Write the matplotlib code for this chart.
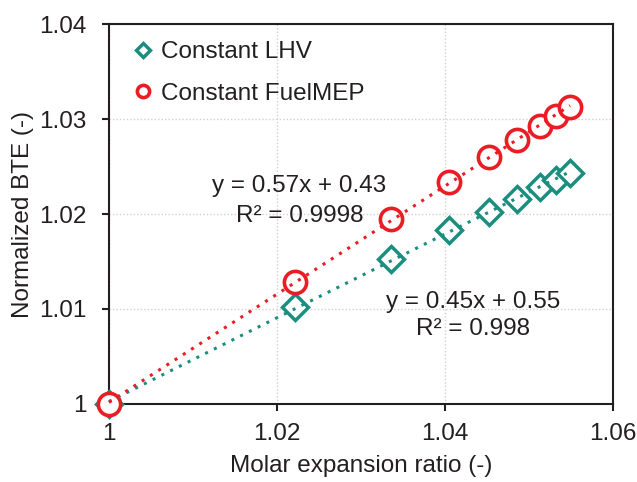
import numpy as np
import matplotlib
matplotlib.use("Agg")
import matplotlib.pyplot as plt

plt.rcParams['font.family'] = ['Liberation Sans', 'DejaVu Sans']

x_vals = [1.0, 1.0221, 1.0336, 1.0405, 1.0452, 1.0486, 1.0513, 1.0532, 1.0549]
lhv_vals = [1.0, 1.0102, 1.0153, 1.0183, 1.0202, 1.0216, 1.0228, 1.0236, 1.0243]
fmep_vals = [1.0, 1.0128, 1.0195, 1.0234, 1.0260, 1.0278, 1.0293, 1.0303, 1.0313]
x_ticks = [1, 1.02, 1.04, 1.06]
y_ticks = [1, 1.01, 1.02, 1.03, 1.04]
eq_fmep = ["y = 0.57x + 0.43", "R² = 0.9998"]
eq_lhv = ["y = 0.45x + 0.55", "R² = 0.998"]

teal = '#1b8e7e'
red = '#ec1c24'
ink = '#231f20'
fs = 17.5

fig = plt.figure(figsize=(6.37, 4.82), dpi=100)
ax = fig.add_axes([0.171, 0.162, 0.791, 0.788])

x = np.array(x_vals)
for yv, c in [(lhv_vals, teal), (fmep_vals, red)]:
    p = np.polyfit(x, np.array(yv), 1)
    xx = np.array([x.min(), x.max()])
    ax.plot(xx, np.polyval(p, xx), ls=(0, (1, 2.2)), color=c, lw=2.2, zorder=6,
            clip_on=False)

ax.plot(x_vals, lhv_vals, ls='none', marker='D', ms=13.5, mfc='white', mec=teal,
        mew=2.5, zorder=4, label='Constant LHV', clip_on=False)
ax.plot(x_vals, fmep_vals, ls='none', marker='o', ms=16, mfc='white', mec=red,
        mew=2.6, zorder=5, label='Constant FuelMEP', clip_on=False)

ax.set_xlim(1, 1.06)
ax.set_ylim(1, 1.04)
ax.set_xticks(x_ticks)
ax.set_xticklabels([f"{v:g}" for v in x_ticks])
ax.set_yticks(y_ticks)
ax.set_yticklabels([f"{v:g}" for v in y_ticks])
ax.grid(True, color='#d0d0d0', ls=(0, (1, 1.5)), lw=1)
ax.set_axisbelow(True)
ax.tick_params(direction='out', length=5, width=1.5, labelsize=fs, colors=ink)
ax.tick_params(axis='x', pad=9)
ax.tick_params(axis='y', pad=11)
for s in ax.spines.values():
    s.set_linewidth(1.5)
    s.set_color(ink)
ax.tick_params(top=False, right=False)

ax.set_xlabel('Molar expansion ratio (-)', fontsize=fs, color=ink, labelpad=7)
ax.set_ylabel('Normalized BTE (-)', fontsize=fs, color=ink, labelpad=4)

ax.text(1.0227, 1.0229, eq_fmep[0], fontsize=fs, ha='center', va='center', color=ink)
ax.text(1.0227, 1.0198, eq_fmep[1], fontsize=fs, ha='center', va='center', color=ink)
ax.text(1.0434, 1.0107, eq_lhv[0], fontsize=fs, ha='center', va='center', color=ink)
ax.text(1.0434, 1.0079, eq_lhv[1], fontsize=fs, ha='center', va='center', color=ink)

leg = ax.legend(loc='upper left', bbox_to_anchor=(0.0, 1.012), frameon=False,
                fontsize=fs, markerscale=0.55, handlelength=1.0, handletextpad=0.25,
                labelspacing=0.8, borderaxespad=0.5)
for t in leg.get_texts():
    t.set_color(ink)

fig.savefig('out.png', dpi=100)
